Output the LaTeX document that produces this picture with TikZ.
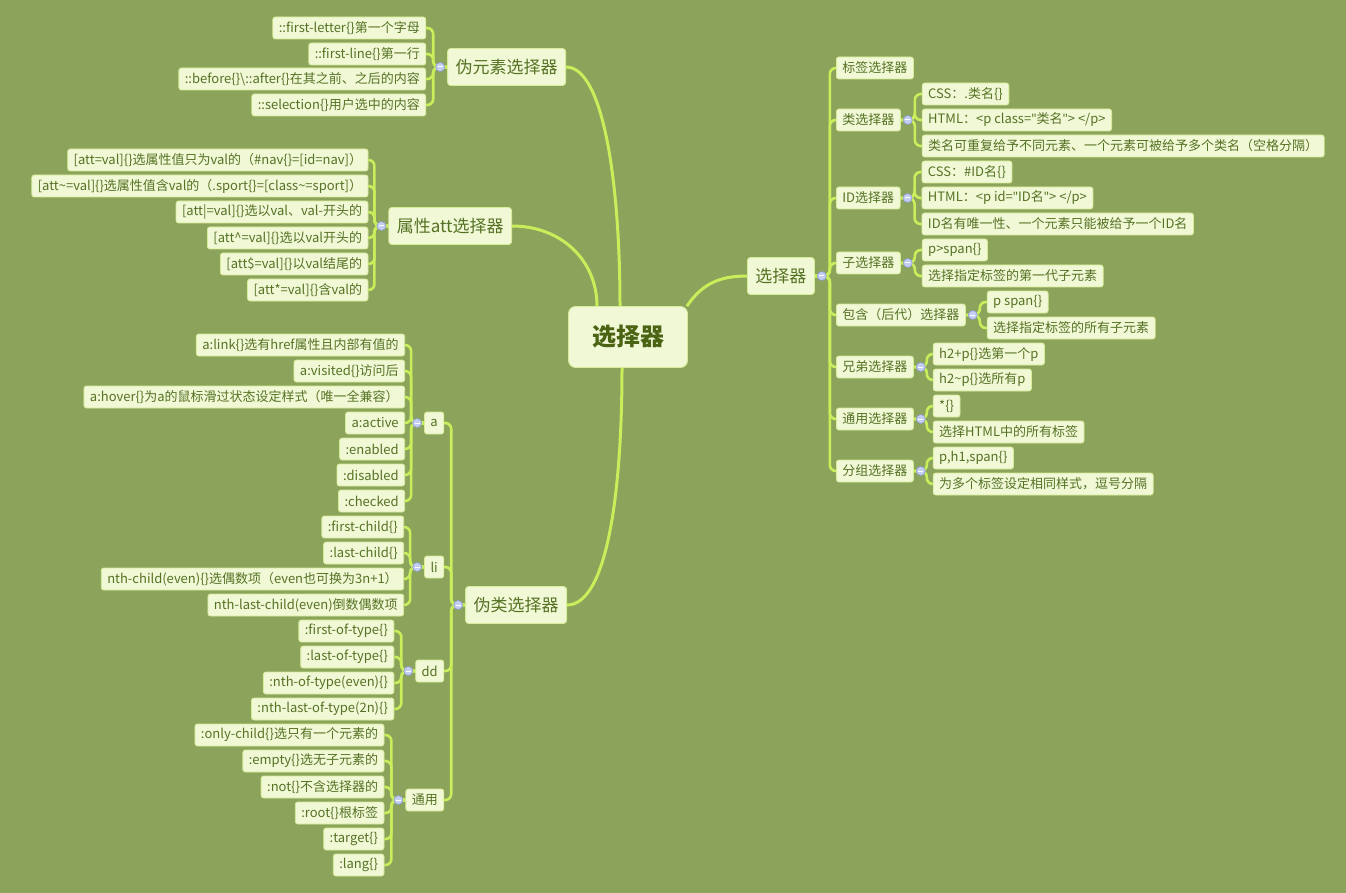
\documentclass[tikz,border=0pt]{standalone}
\usepackage{fontspec}
\setmainfont{Noto Sans CJK SC}
\newfontfamily\quotefont{Noto Sans}[Mapping=]
\definecolor{bgc}{RGB}{139,163,90}
\definecolor{nfill}{RGB}{240,248,214}
\definecolor{nbord}{RGB}{214,236,150}
\definecolor{txt}{RGB}{86,114,36}
\definecolor{txtd}{RGB}{74,100,20}
\definecolor{lnc}{RGB}{200,238,92}
\definecolor{mfill}{RGB}{196,206,242}
\definecolor{mbord}{RGB}{140,156,214}
\pgfdeclarelayer{bg}
\pgfsetlayers{bg,main}
\newcommand{\dq}{{\quotefont\symbol{34}}}
\tikzset{
 leaf/.style={draw=nbord, line width=0.8pt, fill=nfill, rounded corners=2.5pt, text=txt,
   font=\fontsize{13}{15}\selectfont, inner xsep=6pt, inner ysep=0pt, minimum height=22pt},
 mid/.style={leaf, font=\fontsize{17}{20}\selectfont, minimum height=37pt, inner xsep=8pt, rounded corners=3pt},
 rootn/.style={leaf, font=\bfseries\fontsize{24}{28}\selectfont, text=txtd, minimum width=119pt,
   minimum height=61pt, rounded corners=7pt},
 conn/.style={draw=lnc, line width=2.6pt, rounded corners=6pt},
 mconn/.style={draw=lnc, line width=3pt},
 minus/.style={circle, fill=mfill, draw=mbord, line width=0.6pt, inner sep=0pt, minimum size=9pt,
   path picture={\draw[white, line width=1pt] ([xshift=-2.5pt]path picture bounding box.center) -- ([xshift=2.5pt]path picture bounding box.center);}},
}
\begin{document}
\begin{tikzpicture}[x=1pt,y=-1pt]
\useasboundingbox (0,0) rectangle (1346,893);
\begin{pgfonlayer}{bg}
\fill[bgc] (0,0) rectangle (1346,893);
\end{pgfonlayer}
% root
\node[rootn] (root) at (628,337) {选择器};
% ---------- right ----------
\node[mid, anchor=west] (R) at (747,276) {选择器};
\node[leaf, anchor=west] (r1) at (836,68) {标签选择器};
\node[leaf, anchor=west] (r2) at (836,120) {类选择器};
\node[leaf, anchor=west] (r3) at (836,198) {ID选择器};
\node[leaf, anchor=west] (r4) at (836,263) {子选择器};
\node[leaf, anchor=west] (r5) at (836,315) {包含（后代）选择器};
\node[leaf, anchor=west] (r6) at (836,367) {兄弟选择器};
\node[leaf, anchor=west] (r7) at (836,419) {通用选择器};
\node[leaf, anchor=west] (r8) at (836,471) {分组选择器};
\node[leaf, anchor=west, xshift=21pt] (r2a) at (r2.east |- 0,94) {CSS：.类名\{\}};
\node[leaf, anchor=west, xshift=21pt] (r2b) at (r2.east |- 0,120) {HTML：<p class=\dq 类名\dq> </p>};
\node[leaf, anchor=west, xshift=21pt] (r2c) at (r2.east |- 0,146) {类名可重复给予不同元素、一个元素可被给予多个类名（空格分隔）};
\node[leaf, anchor=west, xshift=21pt] (r3a) at (r3.east |- 0,172) {CSS：\#ID名\{\}};
\node[leaf, anchor=west, xshift=21pt] (r3b) at (r3.east |- 0,198) {HTML：<p id=\dq ID名\dq> </p>};
\node[leaf, anchor=west, xshift=21pt] (r3c) at (r3.east |- 0,224) {ID名有唯一性、一个元素只能被给予一个ID名};
\node[leaf, anchor=west, xshift=21pt] (r4a) at (r4.east |- 0,250) {p>span\{\}};
\node[leaf, anchor=west, xshift=21pt] (r4b) at (r4.east |- 0,276) {选择指定标签的第一代子元素};
\node[leaf, anchor=west, xshift=21pt] (r5a) at (r5.east |- 0,302) {p span\{\}};
\node[leaf, anchor=west, xshift=21pt] (r5b) at (r5.east |- 0,328) {选择指定标签的所有子元素};
\node[leaf, anchor=west, xshift=19pt] (r6a) at (r6.east |- 0,354) {h2+p\{\}选第一个p};
\node[leaf, anchor=west, xshift=19pt] (r6b) at (r6.east |- 0,380) {h2\textasciitilde p\{\}选所有p};
\node[leaf, anchor=west, xshift=19pt] (r7a) at (r7.east |- 0,406) {*\{\}};
\node[leaf, anchor=west, xshift=19pt] (r7b) at (r7.east |- 0,432) {选择HTML中的所有标签};
\node[leaf, anchor=west, xshift=19pt] (r8a) at (r8.east |- 0,458) {p,h1,span\{\}};
\node[leaf, anchor=west, xshift=19pt] (r8b) at (r8.east |- 0,484) {为多个标签设定相同样式，逗号分隔};
% ---------- left: pseudo elements ----------
\node[mid, anchor=east] (P1) at (566,67) {伪元素选择器};
\node[leaf, anchor=east, xshift=-21pt] (p1a) at (P1.west |- 0,28) {::first-letter\{\}第一个字母};
\node[leaf, anchor=east, xshift=-21pt] (p1b) at (P1.west |- 0,54) {::first-line\{\}第一行};
\node[leaf, anchor=east, xshift=-21pt] (p1c) at (P1.west |- 0,79) {::before\{\}\textbackslash::after\{\}在其之前、之后的内容};
\node[leaf, anchor=east, xshift=-21pt] (p1d) at (P1.west |- 0,105) {::selection\{\}用户选中的内容};
% ---------- left: attributes ----------
\node[mid, anchor=east] (P2) at (512,226) {属性att选择器};
\node[leaf, anchor=east, xshift=-20pt] (p2a) at (P2.west |- 0,160) {{}[att=val]\{\}选属性值只为val的（\#nav\{\}=[id=nav]）};
\node[leaf, anchor=east, xshift=-20pt] (p2b) at (P2.west |- 0,186) {{}[att\textasciitilde=val]\{\}选属性值含val的（.sport\{\}=[class\textasciitilde=sport]）};
\node[leaf, anchor=east, xshift=-20pt] (p2c) at (P2.west |- 0,212) {{}[att|=val]\{\}选以val、val-开头的};
\node[leaf, anchor=east, xshift=-20pt] (p2d) at (P2.west |- 0,238) {{}[att\textasciicircum=val]\{\}选以val开头的};
\node[leaf, anchor=east, xshift=-20pt] (p2e) at (P2.west |- 0,264) {{}[att\$=val]\{\}以val结尾的};
\node[leaf, anchor=east, xshift=-20pt] (p2f) at (P2.west |- 0,290) {{}[att*=val]\{\}含val的};
% ---------- left: pseudo classes ----------
\node[mid, anchor=east] (P3) at (567,605) {伪类选择器};
\node[leaf, anchor=east, xshift=-21pt] (A) at (P3.west |- 0,423) {a};
\node[leaf, anchor=east, xshift=-21pt] (LI) at (P3.west |- 0,567) {li};
\node[leaf, anchor=east, xshift=-21pt] (DD) at (P3.west |- 0,671) {dd};
\node[leaf, anchor=east, xshift=-21pt] (TY) at (P3.west |- 0,800) {通用};
\node[leaf, anchor=east, xshift=-19pt] (a1) at (A.west |- 0,345) {a:link\{\}选有href属性且内部有值的};
\node[leaf, anchor=east, xshift=-19pt] (a2) at (A.west |- 0,371) {a:visited\{\}访问后};
\node[leaf, anchor=east, xshift=-19pt] (a3) at (A.west |- 0,397) {a:hover\{\}为a的鼠标滑过状态设定样式（唯一全兼容）};
\node[leaf, anchor=east, xshift=-19pt] (a4) at (A.west |- 0,423) {a:active};
\node[leaf, anchor=east, xshift=-19pt] (a5) at (A.west |- 0,449) {:enabled};
\node[leaf, anchor=east, xshift=-19pt] (a6) at (A.west |- 0,475) {:disabled};
\node[leaf, anchor=east, xshift=-19pt] (a7) at (A.west |- 0,501) {:checked};
\node[leaf, anchor=east, xshift=-20pt] (l1) at (LI.west |- 0,527) {:first-child\{\}};
\node[leaf, anchor=east, xshift=-20pt] (l2) at (LI.west |- 0,553) {:last-child\{\}};
\node[leaf, anchor=east, xshift=-20pt] (l3) at (LI.west |- 0,579) {nth-child(even)\{\}选偶数项（even也可换为3n+1）};
\node[leaf, anchor=east, xshift=-20pt] (l4) at (LI.west |- 0,605) {nth-last-child(even)倒数偶数项};
\node[leaf, anchor=east, xshift=-21pt] (d1) at (DD.west |- 0,631) {:first-of-type\{\}};
\node[leaf, anchor=east, xshift=-21pt] (d2) at (DD.west |- 0,657) {:last-of-type\{\}};
\node[leaf, anchor=east, xshift=-21pt] (d3) at (DD.west |- 0,683) {:nth-of-type(even)\{\}};
\node[leaf, anchor=east, xshift=-21pt] (d4) at (DD.west |- 0,709) {:nth-last-of-type(2n)\{\}};
\node[leaf, anchor=east, xshift=-21pt] (t1) at (TY.west |- 0,735) {:only-child\{\}选只有一个元素的};
\node[leaf, anchor=east, xshift=-21pt] (t2) at (TY.west |- 0,761) {:empty\{\}选无子元素的};
\node[leaf, anchor=east, xshift=-21pt] (t3) at (TY.west |- 0,787) {:not\{\}不含选择器的};
\node[leaf, anchor=east, xshift=-21pt] (t4) at (TY.west |- 0,813) {:root\{\}根标签};
\node[leaf, anchor=east, xshift=-21pt] (t5) at (TY.west |- 0,839) {:target\{\}};
\node[leaf, anchor=east, xshift=-21pt] (t6) at (TY.west |- 0,865) {:lang\{\}};
% ---------- connectors ----------
\begin{pgfonlayer}{bg}
\draw[mconn] (P1.east) .. controls +(38,0) and +(0,-120) .. ([xshift=-8pt]root.north);
\draw[mconn] (P2.east) .. controls +(50,0) and +(0,-45) .. ([xshift=-31pt]root.north);
\draw[mconn] (P3.east) .. controls +(40,0) and +(0,125) .. ([xshift=-6pt]root.south);
\draw[mconn] ([xshift=-1pt]root.north east) .. controls +(15,-22) and +(-28,0) .. (R.west);
\foreach \c in {r1,r2,r3,r4,r5,r6,r7,r8} \draw[conn] (R.east) -- ++(15,0) |- (\c.west);
\foreach \c in {r2a,r2b,r2c} \draw[conn] (r2.east) -- ++(14,0) |- (\c.west);
\foreach \c in {r3a,r3b,r3c} \draw[conn] (r3.east) -- ++(14,0) |- (\c.west);
\foreach \c in {r4a,r4b} \draw[conn] (r4.east) -- ++(14,0) |- (\c.west);
\foreach \c in {r5a,r5b} \draw[conn] (r5.east) -- ++(14,0) |- (\c.west);
\foreach \c in {r6a,r6b} \draw[conn] (r6.east) -- ++(13,0) |- (\c.west);
\foreach \c in {r7a,r7b} \draw[conn] (r7.east) -- ++(13,0) |- (\c.west);
\foreach \c in {r8a,r8b} \draw[conn] (r8.east) -- ++(13,0) |- (\c.west);
\foreach \c in {p1a,p1b,p1c,p1d} \draw[conn] (P1.west) -- ++(-14,0) |- (\c.east);
\foreach \c in {p2a,p2b,p2c,p2d,p2e,p2f} \draw[conn] (P2.west) -- ++(-14,0) |- (\c.east);
\foreach \c in {A,LI,DD,TY} \draw[conn] (P3.west) -- ++(-14,0) |- (\c.east);
\foreach \c in {a1,a2,a3,a4,a5,a6,a7} \draw[conn] (A.west) -- ++(-13,0) |- (\c.east);
\foreach \c in {l1,l2,l3,l4} \draw[conn] (LI.west) -- ++(-14,0) |- (\c.east);
\foreach \c in {d1,d2,d3,d4} \draw[conn] (DD.west) -- ++(-14,0) |- (\c.east);
\foreach \c in {t1,t2,t3,t4,t5,t6} \draw[conn] (TY.west) -- ++(-14,0) |- (\c.east);
\end{pgfonlayer}
% ---------- collapse markers ----------
\node[minus] (mR) at ([xshift=7pt]R.east) {};
\node[minus] (m2) at ([xshift=7pt]r2.east) {};
\node[minus] (m3) at ([xshift=7pt]r3.east) {};
\node[minus] (m4) at ([xshift=7pt]r4.east) {};
\node[minus] (m5) at ([xshift=7pt]r5.east) {};
\node[minus] (m6) at ([xshift=7pt]r6.east) {};
\node[minus] (m7) at ([xshift=7pt]r7.east) {};
\node[minus] (m8) at ([xshift=7pt]r8.east) {};
\node[minus] (mP1) at ([xshift=-7pt]P1.west) {};
\node[minus] (mP2) at ([xshift=-7pt]P2.west) {};
\node[minus] (mP3) at ([xshift=-7pt]P3.west) {};
\node[minus] (mA) at ([xshift=-7pt]A.west) {};
\node[minus] (mLI) at ([xshift=-7pt]LI.west) {};
\node[minus] (mDD) at ([xshift=-7pt]DD.west) {};
\node[minus] (mTY) at ([xshift=-7pt]TY.west) {};
\end{tikzpicture}
\end{document}
